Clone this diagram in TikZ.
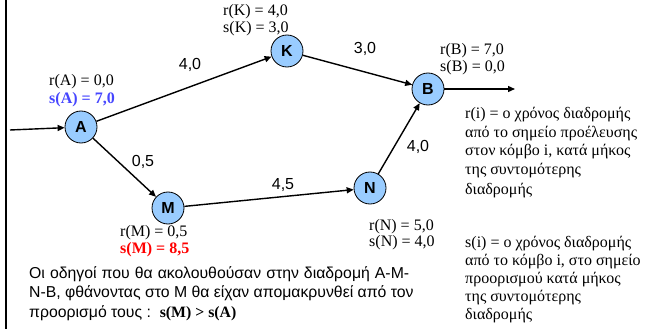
\documentclass[tikz,border=0pt]{standalone}
\usepackage{fontspec}
\setmainfont{Liberation Serif}
\setsansfont{Liberation Sans}
\usetikzlibrary{arrows.meta}
\definecolor{nodeblue}{RGB}{153,204,255}
\definecolor{sblue}{RGB}{70,70,255}
\definecolor{sred}{RGB}{255,0,0}
\begin{document}
\begin{tikzpicture}[x=1pt,y=-1pt,
  nd/.style={circle,draw=black,line width=0.8pt,fill=nodeblue,minimum size=32pt,inner sep=0pt,font=\sffamily\bfseries\fontsize{16}{16}\selectfont},
  conn/.style={line width=1.4pt,-{Triangle[length=7pt,width=6pt]}},
  lbl/.style={font=\fontsize{16}{17}\selectfont,anchor=base west,inner sep=0pt},
  elbl/.style={font=\sffamily\fontsize{16}{16}\selectfont,inner sep=0pt},
  sl/.style={font=\sffamily\fontsize{15.8}{16}\selectfont,anchor=base west,inner sep=0pt}]
\useasboundingbox (0,0) rectangle (646,329);
\fill[white] (0,0) rectangle (646,329);
\draw[line width=2.5pt] (6,0) -- (6,329);

\node[nd] (A) at (81,127) {A};
\node[nd] (K) at (287,51) {K};
\node[nd] (B) at (428,89) {B};
\node[nd] (N) at (370,188) {N};
\node[nd] (M) at (168,208) {M};
\coordinate (in) at (10,130);
\coordinate (out) at (515,89);

\draw[conn] (in) -- (A);
\draw[conn] (A) -- (K);
\draw[conn] (A) -- (M);
\draw[conn] (K) -- (B);
\draw[conn] (M) -- (N);
\draw[conn] (N) -- (B);
\draw[conn] (B) -- (out);

\node[elbl] (e1) at (190,65) {4,0};
\node[elbl] (e2) at (365,49) {3,0};
\node[elbl] (e3) at (143,162) {0,5};
\node[elbl] (e4) at (283,185) {4,5};
\node[elbl] (e5) at (418,147) {4,0};

\node[lbl] (rK) at (223,16) {r(K) = 4,0};
\node[lbl] (sK) at (223,33) {s(K) = 3,0};
\node[lbl] (rA) at (49,85) {r(A) = 0,0};
\node[lbl,text=sblue,font=\bfseries\fontsize{16}{17}\selectfont] (sA) at (49,103) {s(A) = 7,0};
\node[lbl] (rB) at (440,55) {r(B) = 7,0};
\node[lbl] (sB) at (440,72) {s(B) = 0,0};
\node[lbl] (rM) at (120,236) {r(M) = 0,5};
\node[lbl,text=sred,font=\bfseries\fontsize{16}{17}\selectfont] (sM) at (120,253) {s(M) = 8,5};
\node[lbl] (rN) at (369,230) {r(N) = 5,0};
\node[lbl] (sN) at (369,246) {s(N) = 4,0};

\node[lbl] (p1) at (465,118) {r(i) = ο χρόνος διαδρομής};
\node[lbl] (p2) at (465,137) {από το σημείο προέλευσης};
\node[lbl] (p3) at (465,156) {στον κόμβο i, κατά μήκος};
\node[lbl] (p4) at (465,175) {της συντομότερης};
\node[lbl] (p5) at (465,194) {διαδρομής};

\node[lbl] (q1) at (465,247) {s(i) = ο χρόνος διαδρομής};
\node[lbl] (q2) at (465,265) {από το κόμβο i, στο σημείο};
\node[lbl] (q3) at (465,283) {προορισμού κατά μήκος};
\node[lbl] (q4) at (465,301) {της συντομότερης};
\node[lbl] (q5) at (465,319) {διαδρομής};

\node[sl] (t1) at (29,278) {\makebox[380pt][s]{Οι οδηγοί που θα ακολουθούσαν στην διαδρομή Α-Μ-}};
\node[sl] (t2) at (29,297) {Ν-Β, φθάνοντας στο Μ θα είχαν απομακρυνθεί από τον};
\node[sl] (t3) at (29,317) {προορισμό τους :\ \ {\rmfamily\bfseries s(M) > s(A)}};
\end{tikzpicture}
\end{document}
